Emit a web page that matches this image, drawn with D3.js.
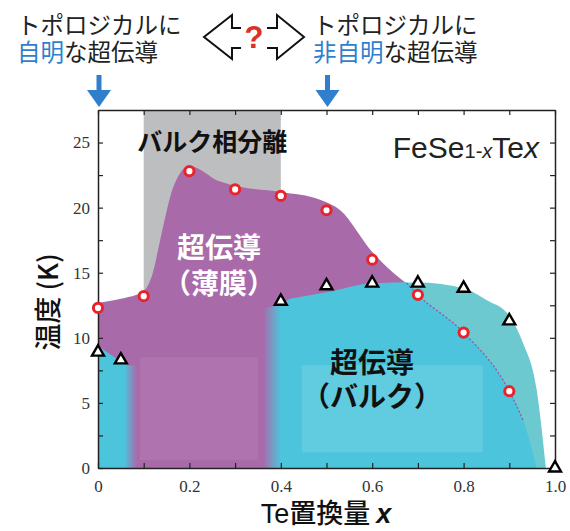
<!DOCTYPE html>
<html>
<head>
<meta charset="utf-8">
<script src="https://cdn.jsdelivr.net/npm/d3@7"></script>
<style>
    body { margin: 0; background: #fff; }
    svg { font-family: "Noto Sans CJK JP", "Noto Sans", sans-serif; }
</style>
</head>
<body>
<div id="chart"></div>
<script>
// measured Tc values
const filmX  = [0, 0.1, 0.2, 0.3, 0.4, 0.5, 0.6, 0.7, 0.8, 0.9];
const filmTc = [12.3, 13.2, 22.8, 21.4, 20.9, 19.8, 16.0, 13.3, 10.4, 5.9];
const bulkX  = [0, 0.05, 0.4, 0.5, 0.6, 0.7, 0.8, 0.9, 1.0];
const bulkTc = [8.9, 8.3, 12.8, 14.0, 14.2, 14.2, 13.8, 11.3, 0];

// outlines of the shaded regions, [x, K]
const filmEdge = [[0, 12.7], [0.05, 13.0], [0.1, 13.6], [0.12, 15], [0.136, 17.5], [0.165, 21.6],
    [0.2, 23.2], [0.267, 22.0], [0.31, 21.6], [0.4, 21.2], [0.486, 20.6], [0.53, 19.8],
    [0.6, 16.6], [0.66, 14.6], [0.675, 14.2]];
const filmTail = [[0.675, 14.2], [0.7, 13.3], [0.8, 10.4], [0.9, 5.9], [0.93, 3.7], [0.96, 0]];
const bulkRise = [[0.365, 12.3], [0.4, 12.6], [0.42, 13.0], [0.5, 13.5], [0.6, 14.2], [0.675, 14.25]];
const bulkEdge = [[0.6, 14.2], [0.7, 14.25], [0.8, 13.8], [0.85, 12.9], [0.9, 11.7],
    [0.93, 9.6], [0.96, 6], [0.98, 0]];
const bulkLeftEdge = [[0, 9.4], [0.02, 8.9], [0.045, 8.3], [0.063, 7.95], [0.09, 7.8]];
const phaseSep = [0.1, 0.4];

const xTickVals = [0, 0.1, 0.2, 0.3, 0.4, 0.5, 0.6, 0.7, 0.8, 0.9, 1.0];
const xTickLabels = ["0", "", "0.2", "", "0.4", "", "0.6", "", "0.8", "", "1.0"];
const yTickVals = [0, 2.5, 5, 7.5, 10, 12.5, 15, 17.5, 20, 22.5, 25];
const yTickLabels = ["0", "", "5", "", "10", "", "15", "", "20", "", "25"];

const width = 570, height = 531;
const margin = { top: 110, right: 15, bottom: 63, left: 98 };

const purple = "#a96aaa", cyan = "#4cc4dc", teal = "#6bc9cf", gray = "#bdbec0";
const blue = "#2f7fcc", ink = "#222";
const serif = "'Liberation Serif', 'Times New Roman', serif";
const sans = "'Liberation Sans', Arial, sans-serif";

const svg = d3.select("#chart").append("svg")
    .attr("width", width)
    .attr("height", height);

const x = d3.scaleLinear().domain([0, 1]).range([margin.left, width - margin.right]);
const y = d3.scaleLinear().domain([0, 27.5]).range([height - margin.bottom, margin.top]);

// gradients for the soft purple/cyan edges
const defs = svg.append("defs");
const fadeL = defs.append("linearGradient").attr("id", "fadeL")
    .attr("gradientUnits", "userSpaceOnUse")
    .attr("x1", x(0.058)).attr("x2", x(0.085)).attr("y1", 0).attr("y2", 0);
fadeL.append("stop").attr("offset", 0).attr("stop-color", cyan).attr("stop-opacity", 1);
fadeL.append("stop").attr("offset", 1).attr("stop-color", cyan).attr("stop-opacity", 0);
const fadeR = defs.append("linearGradient").attr("id", "fadeR")
    .attr("gradientUnits", "userSpaceOnUse")
    .attr("x1", x(0.36)).attr("x2", x(0.4)).attr("y1", 0).attr("y2", 0);
fadeR.append("stop").attr("offset", 0).attr("stop-color", cyan).attr("stop-opacity", 0);
fadeR.append("stop").attr("offset", 1).attr("stop-color", cyan).attr("stop-opacity", 1);

// phase separation band
svg.append("rect")
    .attr("x", x(phaseSep[0]))
    .attr("y", y(27.5))
    .attr("width", x(phaseSep[1]) - x(phaseSep[0]))
    .attr("height", y(0) - y(27.5))
    .attr("fill", gray);

const area = d3.area()
    .x(d => x(d[0]))
    .y0(y(0))
    .y1(d => y(d[1]))
    .curve(d3.curveMonotoneX);

// thin film dome
svg.append("path").attr("d", area(filmEdge)).attr("fill", purple);

// bulk dome (teal part above film tail)
svg.append("path").attr("d", area(bulkEdge)).attr("fill", teal);

// bulk region left
svg.append("path").attr("d", area(bulkLeftEdge)).attr("fill", "url(#fadeL)");

// bulk region right (under film tail)
svg.append("path").attr("d", area(bulkRise.slice(0, 3))).attr("fill", "url(#fadeR)");
svg.append("path").attr("d", area(bulkRise.slice(2).concat(filmTail.slice(1)))).attr("fill", cyan);

// label backdrops
svg.append("rect")
    .attr("x", x(0.092)).attr("y", y(8.5))
    .attr("width", x(0.35) - x(0.092)).attr("height", y(0.6) - y(8.5))
    .attr("fill", "#fff").attr("opacity", 0.07);
svg.append("rect")
    .attr("x", x(0.446)).attr("y", y(7.9))
    .attr("width", x(0.842) - x(0.446)).attr("height", y(1.2) - y(7.9))
    .attr("fill", "#fff").attr("opacity", 0.12);

// dotted continuation of film Tc
svg.append("path")
    .datum(filmTail.filter(d => d[0] <= 0.93))
    .attr("d", d3.line().x(d => x(d[0])).y(d => y(d[1])).curve(d3.curveMonotoneX))
    .attr("fill", "none")
    .attr("stroke", "#9a55a6")
    .attr("stroke-width", 1.3)
    .attr("stroke-dasharray", "2,2");

// axes, ticks pointing inward
const styleAxis = g => {
    g.attr("font-family", serif).attr("font-size", 17);
    g.select(".domain").attr("stroke", ink).attr("stroke-width", 1.5);
    g.selectAll(".tick line").attr("stroke", ink).attr("stroke-width", 1.2);
    g.selectAll(".tick text").attr("fill", "#333");
};

svg.append("g")
    .attr("transform", `translate(0,${y(0)})`)
    .call(d3.axisBottom(x).tickValues(xTickVals).tickSize(-5).tickSizeOuter(0).tickPadding(12)
        .tickFormat((d, i) => xTickLabels[i]))
    .call(styleAxis);
svg.append("g")
    .attr("transform", `translate(0,${y(27.5)})`)
    .call(d3.axisTop(x).tickValues(xTickVals).tickSize(-5).tickSizeOuter(0).tickFormat(""))
    .call(styleAxis);
svg.append("g")
    .attr("transform", `translate(${x(0)},0)`)
    .call(d3.axisLeft(y).tickValues(yTickVals).tickSize(-5).tickSizeOuter(0).tickPadding(8)
        .tickFormat((d, i) => yTickLabels[i]))
    .call(styleAxis);
svg.append("g")
    .attr("transform", `translate(${x(1)},0)`)
    .call(d3.axisRight(y).tickValues(yTickVals).tickSize(-5).tickSizeOuter(0).tickFormat(""))
    .call(styleAxis);

// bulk Tc triangles
svg.selectAll(".bulk")
    .data(bulkX.map((v, i) => [v, bulkTc[i]]))
    .enter()
    .append("path")
    .attr("class", "bulk")
    .attr("d", d3.symbol().type(d3.symbolTriangle).size(62))
    .attr("transform", d => `translate(${x(d[0])},${y(d[1])})`)
    .attr("fill", "#fff")
    .attr("stroke", "#000")
    .attr("stroke-width", 2.4);

// film Tc circles
svg.selectAll(".film")
    .data(filmX.map((v, i) => [v, filmTc[i]]))
    .enter()
    .append("circle")
    .attr("class", "film")
    .attr("cx", d => x(d[0]))
    .attr("cy", d => y(d[1]))
    .attr("r", 4.6)
    .attr("fill", "#fff")
    .attr("stroke", "#e8232b")
    .attr("stroke-width", 3);

// region labels
svg.append("text")
    .attr("x", x(0.25)).attr("y", 151)
    .attr("text-anchor", "middle")
    .style("font-size", "25px").style("font-weight", "bold")
    .attr("fill", "#111")
    .text("バルク相分離");

const filmLabel = svg.append("text")
    .attr("text-anchor", "middle")
    .style("font-size", "28px").style("font-weight", "bold")
    .attr("fill", "#fff");
filmLabel.append("tspan").attr("x", 219).attr("y", 258).text("超伝導");
filmLabel.append("tspan").attr("x", 219).attr("y", 294).text("（薄膜）");

const bulkLabel = svg.append("text")
    .attr("text-anchor", "middle")
    .style("font-size", "28px").style("font-weight", "bold")
    .attr("fill", "#111");
bulkLabel.append("tspan").attr("x", 372).attr("y", 373).text("超伝導");
bulkLabel.append("tspan").attr("x", 372).attr("y", 407).text("（バルク）");

// compound name
const comp = svg.append("text")
    .attr("x", 539).attr("y", 158)
    .attr("text-anchor", "end")
    .attr("fill", ink)
    .attr("font-family", sans)
    .style("font-size", "30px");
comp.append("tspan").text("FeSe");
comp.append("tspan").style("font-size", "20px").text("1-");
comp.append("tspan").style("font-size", "20px").style("font-style", "italic").text("x");
comp.append("tspan").text("Te");
comp.append("tspan").style("font-style", "italic").text("x");

// axis titles
svg.append("text")
    .attr("transform", "translate(58,302) rotate(-90)")
    .attr("text-anchor", "middle")
    .style("font-size", "27px").style("font-weight", "500")
    .attr("fill", "#111")
    .text("温度 (K)");

const xTitle = svg.append("text")
    .attr("x", 326).attr("y", 523)
    .attr("text-anchor", "middle")
    .style("font-size", "27px").style("font-weight", "500")
    .attr("fill", "#111");
xTitle.append("tspan").attr("font-family", sans).text("Te");
xTitle.append("tspan").text("置換量 ");
xTitle.append("tspan").attr("font-family", sans).style("font-weight", "bold").style("font-style", "italic").text("x");

// header texts
const header = (x0, blueText) => {
    svg.append("text").attr("x", x0).attr("y", 34)
        .style("font-size", "23.5px").attr("fill", ink)
        .text("トポロジカルに");
    const t = svg.append("text").attr("x", x0).attr("y", 61)
        .style("font-size", "23.5px").attr("fill", ink);
    t.append("tspan").attr("fill", blue).text(blueText);
    t.append("tspan").text("な超伝導");
};
header(17, "自明");
header(313, "非自明");

// open double arrow with question mark
svg.append("path")
    .attr("d", "M241,28 H232 V15 L204,37 L232,59 V48 H241")
    .attr("fill", "none").attr("stroke", "#111").attr("stroke-width", 2);
svg.append("path")
    .attr("d", "M267,28 H277 V15 L304,37 L277,59 V48 H267")
    .attr("fill", "none").attr("stroke", "#111").attr("stroke-width", 2);
svg.append("text")
    .attr("x", 254).attr("y", 48)
    .attr("text-anchor", "middle")
    .attr("font-family", sans)
    .style("font-size", "31px").style("font-weight", "bold")
    .attr("fill", "#d9312b")
    .text("?");

// blue arrows pointing at x = 0 and x = 0.5
[0, 0.5].forEach(v => {
    const cx = x(v) + 1;
    svg.append("line")
        .attr("x1", cx).attr("x2", cx)
        .attr("y1", 75).attr("y2", 92)
        .attr("stroke", blue).attr("stroke-width", 5);
    svg.append("path")
        .attr("d", `M${cx - 12},90 L${cx + 12},90 L${cx},107 Z`)
        .attr("fill", blue);
});
</script>
</body>
</html>
